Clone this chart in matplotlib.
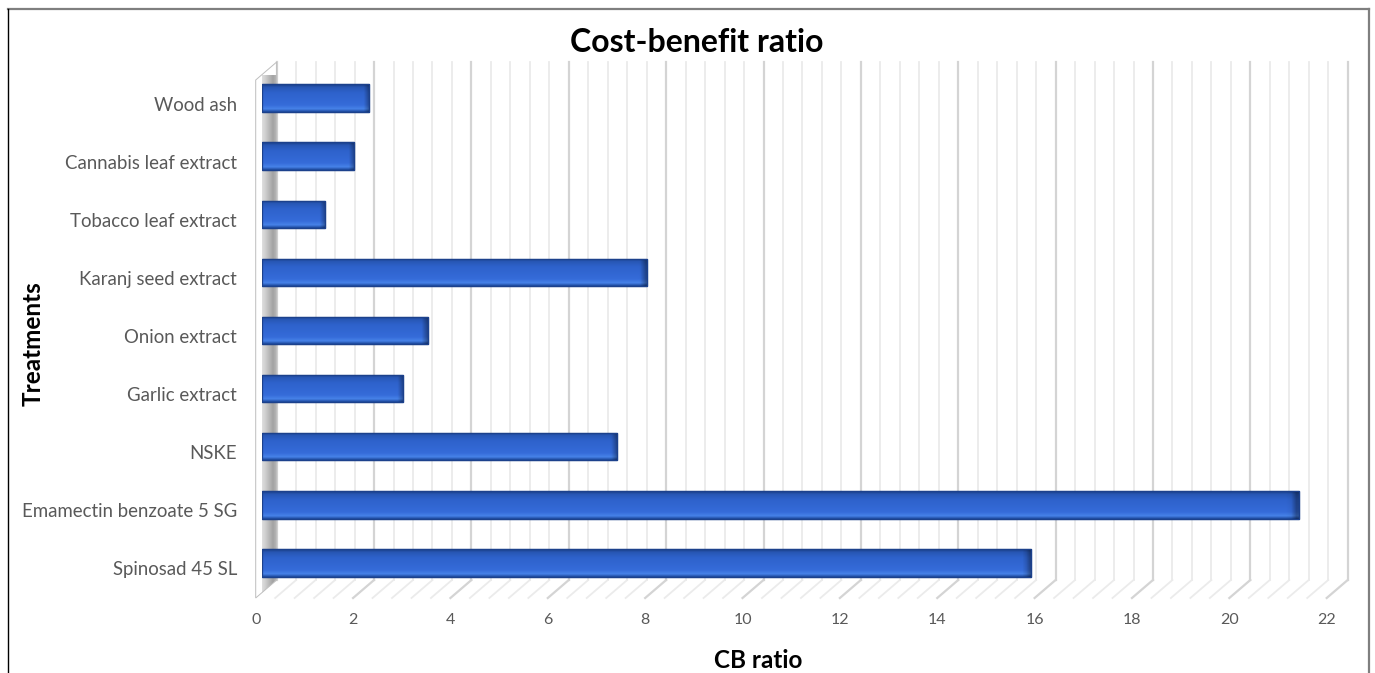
import numpy as np
import matplotlib
matplotlib.use("Agg")
import matplotlib.pyplot as plt
from matplotlib.patches import Polygon
from matplotlib.colors import LinearSegmentedColormap
from matplotlib.lines import Line2D
from matplotlib.transforms import Affine2D, blended_transform_factory

# ---------------- data ----------------
categories = ["Spinosad 45 SL", "Emamectin benzoate 5 SG", "NSKE", "Garlic extract",
              "Onion extract", "Karanj seed extract", "Tobacco leaf extract",
              "Cannabis leaf extract", "Wood ash"]
cb_ratio = [15.8, 21.3, 7.3, 2.9, 3.4, 7.9, 1.3, 1.9, 2.2]
x_ticks = [0, 2, 4, 6, 8, 10, 12, 14, 16, 18, 20, 22]
title = "Cost-benefit ratio"
x_label = "CB ratio"
y_label = "Treatments"

W, H = 1375, 673
DPI = 100
fig = plt.figure(figsize=(W / DPI, H / DPI), dpi=DPI)
fig.patch.set_facecolor("white")
FONT = ["Lato", "DejaVu Sans"]

def fx(px):
    return px / W

def fy(py):
    return 1 - py / H

# bar plane axes (pixel geometry)
left_px, right_px = 262, 1333
top_px, bot_px = 74.6, 592.6
ax = fig.add_axes([fx(left_px), fy(bot_px), (right_px - left_px) / W, (bot_px - top_px) / H])
ax.set_xlim(0, 22)
n = len(categories)
row_px = 58.1
ymin = -(bot_px - 563) / row_px
ymax = (n - 1) + (98 - top_px) / row_px
ax.set_ylim(ymin, ymax)
for s in ax.spines.values():
    s.set_visible(False)
ax.set_facecolor("none")
ax.set_xticks([])
ax.set_yticks([])

# depth vector (display px) and plane offsets
DX, DY = 21.0, 18.0
d_bar = 0.3
front = (-d_bar * DX, -d_bar * DY)
back = ((1 - d_bar) * DX, (1 - d_bar) * DY)

inv = ax.transData.inverted()

def disp_x(v):
    return ax.transData.transform((v, 0))[0]

y_bot_disp = ax.transAxes.transform((0, 0))[1]
y_top_disp = ax.transAxes.transform((0, 1))[1]

def to_data(pts):
    return inv.transform(np.asarray(pts))

# back wall gridlines and floor lines
grid_vals = np.round(np.arange(0, 22.0001, 0.4), 4)
for v in grid_vals:
    major = abs(v / 2 - round(v / 2)) < 1e-6
    col = "#D4D4D4" if major else "#EBEBEB"
    lw = 1.6 if major else 1.3
    xd = disp_x(v)
    p = to_data([(xd + back[0], y_bot_disp + back[1]), (xd + back[0], y_top_disp + back[1])])
    ax.add_line(Line2D(p[:, 0], p[:, 1], color=col, lw=lw, zorder=1, clip_on=False))
    if v > 0:
        p = to_data([(xd + front[0], y_bot_disp + front[1]), (xd + back[0], y_bot_disp + back[1])])
        ax.add_line(Line2D(p[:, 0], p[:, 1], color=col, lw=lw, zorder=1, clip_on=False))

# side wall (gray gradient)
x0 = disp_x(0)
wall_disp = [(x0 + front[0], y_bot_disp + front[1]), (x0 + back[0], y_bot_disp + back[1]),
             (x0 + back[0], y_top_disp + back[1]), (x0 + front[0], y_top_disp + front[1])]
wall_data = to_data(wall_disp)
wall_cmap = LinearSegmentedColormap.from_list(
    "wall", [(0, "#C4C4C4"), (0.12, "#EFEFEF"), (0.45, "#D0D0D0"), (0.82, "#A2A2A2"),
             (1, "#BABABA")])
grad = np.linspace(0, 1, 64)[None, :]
wx0, wx1 = wall_data[:, 0].min(), wall_data[:, 0].max()
wy0, wy1 = wall_data[:, 1].min(), wall_data[:, 1].max()
im = ax.imshow(grad, cmap=wall_cmap, extent=(wx0, wx1, wy0, wy1), aspect="auto",
               zorder=1.5, interpolation="bilinear")
im.set_clip_path(Polygon(wall_data, closed=True, transform=ax.transData))
im.set_clip_on(True)
ax.add_patch(Polygon(wall_data, closed=True, facecolor="none", edgecolor="#BEBEBE", lw=0.7,
                     zorder=1.6, clip_on=False))

# bars
bar_h = 0.47
bars = ax.barh(range(n), cb_ratio, height=bar_h, color="#2F63CA", edgecolor="#1C418C",
               linewidth=0.9, zorder=3)
bar_cmap = LinearSegmentedColormap.from_list(
    "bar", [(0, "#1E4A9E"), (0.1, "#4682E8"), (0.25, "#356BD9"), (0.7, "#2E62CB"),
            (0.9, "#2756B3"), (1, "#1B3F88")])
px_per_unit = disp_x(1) - disp_x(0)
for i, (b, v) in enumerate(zip(bars, cb_ratio)):
    ncol = 200
    xs = np.linspace(0, v, ncol)
    rows = np.linspace(0, 1, 40)[:, None]
    img = bar_cmap(np.repeat(rows, ncol, axis=1))
    end_w = 6.0 / px_per_unit
    t = np.clip((xs - (v - end_w)) / end_w, 0, 1)[None, :]
    shade = 1 - 0.35 * t
    img[..., :3] = img[..., :3] * shade[..., None]
    bim = ax.imshow(img, extent=(0, v, i + bar_h / 2, i - bar_h / 2), aspect="auto",
                    zorder=3.5, interpolation="bilinear", origin="upper")
    bim.set_clip_path(b)
    ax.add_patch(plt.Rectangle((0, i - bar_h / 2), v, bar_h, facecolor="none",
                               edgecolor="#1C418C", lw=0.9, zorder=3.6))

ax.set_xlim(0, 22)
ax.set_ylim(ymin, ymax)

# category labels (front plane, slightly lower than bars)
ytr = blended_transform_factory(ax.transAxes, ax.transData) + Affine2D().translate(-25, -7)
for i, c in enumerate(categories):
    ax.text(0, i, c, transform=ytr, ha="right", va="center", fontsize=13.4,
            color="#595959", family=FONT, clip_on=False)

# x tick labels on front plane
for v in x_ticks:
    xd = disp_x(v) + front[0]
    fig.text(xd / W, fy(620.5), str(v), ha="center", va="center", fontsize=11.5,
             color="#595959", family=FONT)

# titles
fig.text(fx(697), fy(42), title, ha="center", va="center", fontsize=23, fontweight="bold",
         color="black", family=FONT)
fig.text(fx(758), fy(661), x_label, ha="center", va="center", fontsize=17.5, fontweight="bold",
         color="black", family=FONT)
fig.text(fx(33), fy(344), y_label, ha="center", va="center", rotation=90, fontsize=17.5,
         fontweight="bold", color="black", family=FONT)

# outer border (partial frame)
fig.add_artist(Line2D([fx(8), fx(1369)], [fy(9), fy(9)], color="#7F7F7F", lw=1.6))
fig.add_artist(Line2D([fx(8), fx(8)], [fy(9), fy(673)], color="#000000", lw=1.0))
fig.add_artist(Line2D([fx(1369), fx(1369)], [fy(9), fy(673)], color="#7F7F7F", lw=1.6))

fig.savefig("out.png", dpi=DPI, facecolor="white")
